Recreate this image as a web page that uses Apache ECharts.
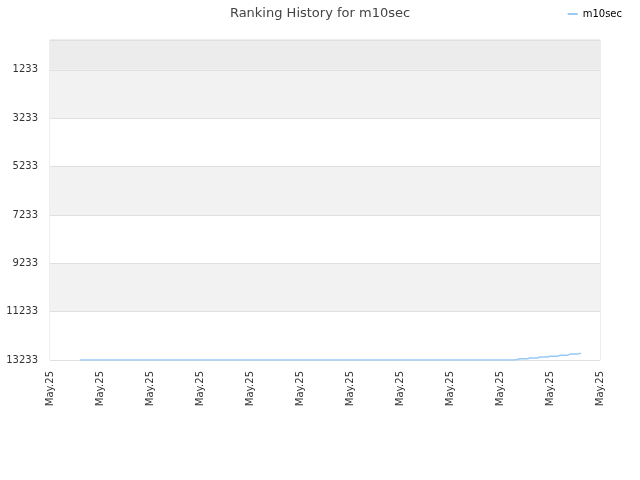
<!DOCTYPE html>
<html>
<head>
<meta charset="utf-8">
<script src="https://cdn.jsdelivr.net/npm/echarts@6/dist/echarts.min.js"></script>
<style>html,body{margin:0;padding:0;background:#fff}#c{width:640px;height:480px}</style>
</head>
<body>
<div id="c"></div>
<script>
const seriesName = 'm10sec';
const xPositions = [0.6, 2, 4, 6, 8, 9.3, 9.4, 9.55, 9.6, 9.75, 9.8, 9.95, 10.0, 10.15, 10.2, 10.35, 10.4, 10.55, 10.62];
const rankValues = [13233, 13233, 13233, 13233, 13233, 13233, 13180, 13180, 13150, 13150, 13110, 13110, 13080, 13080, 13040, 13040, 12990, 12990, 12950];
const xTickLabels = ['May.25','May.25','May.25','May.25','May.25','May.25','May.25','May.25','May.25','May.25','May.25','May.25'];
const yTickValues = [0, 1233, 3233, 5233, 7233, 9233, 11233, 13233];
const yLabelValues = [1233, 3233, 5233, 7233, 9233, 11233, 13233];

const data = xPositions.map((x, i) => [x, rankValues[i]]);
const font = 'DejaVu Sans';
const chart = echarts.init(document.getElementById('c'));
chart.setOption({
  animation: false,
  backgroundColor: '#fff',
  title: {
    text: 'Ranking History for m10sec',
    left: 'center', top: 2,
    textStyle: { fontFamily: font, fontSize: 13, fontWeight: 'normal', color: '#444' }
  },
  legend: {
    right: 13, top: 4,
    itemWidth: 10, itemHeight: 2, itemGap: 10,
    icon: 'rect',
    textStyle: { fontFamily: font, fontSize: 10, color: '#000' },
    data: [seriesName]
  },
  grid: { left: 50, right: 40, top: 40, bottom: 120, show: true, borderColor: '#ddd', borderWidth: 1 },
  xAxis: {
    type: 'value', min: 0, max: 11, interval: 1,
    axisLine: { show: false }, axisTick: { show: false }, splitLine: { show: false },
    axisLabel: {
      rotate: 90, fontFamily: font, fontSize: 10, color: '#333', margin: 11,
      formatter: (v) => xTickLabels[Math.round(v)]
    }
  },
  yAxis: {
    type: 'value', inverse: true, min: 0, max: 13233,
    axisLine: { show: false },
    axisTick: { show: false, customValues: yTickValues },
    axisLabel: { customValues: yLabelValues, fontFamily: font, fontSize: 10, color: '#333', margin: 12,
      formatter: (v) => String(v) },
    splitLine: { show: true, lineStyle: { color: '#e0e0e0', width: 1 } },
    splitArea: { show: true, areaStyle: { color: ['#ececec', '#f2f2f2', '#ffffff', '#f2f2f2', '#ffffff', '#f2f2f2', '#ffffff'] } }
  },
  series: [{
    name: seriesName, type: 'line', data: data,
    showSymbol: false, symbol: 'none',
    lineStyle: { color: '#99c9f5', width: 1.5 },
    itemStyle: { color: '#99c9f5' }
  }]
});
</script>
</body>
</html>
